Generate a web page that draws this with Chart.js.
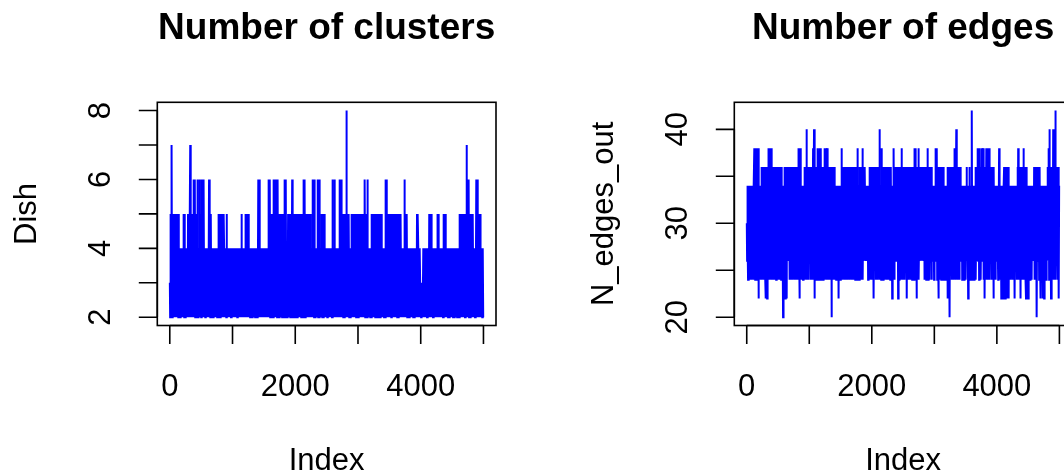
<!DOCTYPE html>
<html>
<head>
<meta charset="utf-8">
<title>MCMC traces</title>
<script src="https://cdn.jsdelivr.net/npm/chart.js@4.4.1/dist/chart.umd.min.js"></script>
<style>
  html, body { margin: 0; padding: 0; background: #fff; overflow: hidden; }
  body { width: 1064px; height: 474px; position: relative; }
  canvas { position: absolute; top: 0; }
  #clustersChart { left: 0; }
  #edgesChart { left: 540px; }
</style>
</head>
<body>
<canvas id="clustersChart" width="540" height="474"></canvas>
<canvas id="edgesChart" width="600" height="474"></canvas>
<script>
// trace of the sampler, every 5th iteration of 5000
const nIter = 5000;
const thin = 5;

// number of clusters (Dish)
const clusters = [
  3,2,5,2,4,2,7,2,5,3,2,5,4,2,5,2,3,5,2,4,5,2,3,5,2,
  4,5,2,5,3,2,4,3,2,4,2,3,4,2,3,4,2,4,3,2,5,2,5,3,2,
  4,2,3,4,2,4,3,2,5,3,2,5,4,2,5,7,2,4,5,2,3,5,2,4,5,
  2,6,2,4,3,6,2,5,3,2,5,4,2,6,3,2,4,2,3,6,2,5,3,2,5,
  2,6,2,4,3,2,4,2,6,3,2,4,3,2,4,2,3,4,2,4,3,2,4,2,3,
  6,2,4,3,2,4,5,2,3,4,2,4,3,2,4,2,3,4,2,3,4,2,4,3,2,
  4,2,3,4,2,5,3,2,5,4,2,5,2,3,5,2,4,5,2,5,3,2,5,4,2,
  3,4,2,4,3,2,5,2,4,3,2,4,2,3,4,2,4,3,2,4,2,3,4,2,3,
  4,2,3,4,2,4,3,2,4,2,3,4,2,3,4,2,4,2,3,4,2,4,3,2,4,
  2,3,4,2,5,2,3,4,2,4,3,2,4,2,3,4,2,5,3,2,5,4,2,5,3,
  5,2,4,3,2,4,2,3,4,2,4,3,2,4,2,3,4,2,3,4,2,4,2,3,4,
  2,3,4,2,4,3,2,6,2,4,3,6,2,4,3,2,4,2,3,4,2,4,3,2,4,
  2,3,4,2,4,3,2,4,2,3,4,2,4,3,6,2,4,3,2,6,2,4,3,2,5,
  3,2,5,4,2,6,2,5,3,6,2,6,2,4,3,2,4,2,3,6,2,4,3,2,4,
  2,5,3,2,5,4,2,5,2,3,5,2,4,5,2,5,6,2,5,3,6,2,4,3,2,
  4,2,5,3,2,5,4,2,5,2,3,5,2,4,3,6,2,4,2,5,3,2,5,4,2,
  5,2,3,5,2,4,2,3,4,5,2,5,3,2,4,5,2,3,5,2,4,5,2,5,3,
  2,6,2,5,3,6,2,4,5,2,3,5,2,4,2,3,5,2,4,5,2,3,4,2,5,
  2,3,4,2,4,2,6,3,2,4,2,6,3,2,4,2,3,4,2,4,3,2,6,2,4,
  3,2,6,2,4,3,2,4,2,5,3,2,5,4,2,5,2,5,3,2,4,2,3,4,2,
  4,3,2,4,2,3,4,2,4,3,2,4,2,3,4,2,4,2,6,3,2,4,2,3,4,
  6,2,4,3,2,4,2,3,4,2,3,2,3,2,4,3,6,2,4,5,2,6,2,5,3,
  2,5,4,2,5,3,2,5,2,4,5,2,3,8,2,5,3,2,5,4,2,5,2,4,3,
  2,4,2,3,5,2,4,5,2,3,5,2,5,4,2,5,3,2,5,2,4,5,2,3,5,
  2,4,5,2,5,3,2,5,4,2,5,2,3,5,2,4,5,2,5,3,2,5,6,2,4,
  5,2,3,5,2,6,2,4,3,2,4,2,3,4,2,4,3,2,5,2,4,5,2,5,3,
  2,5,4,2,5,2,5,3,2,4,5,2,3,5,2,5,4,2,5,3,2,5,2,4,5,
  2,3,4,2,4,3,2,4,2,3,4,2,4,6,2,3,6,2,4,3,2,5,2,4,5,
  2,3,5,2,5,4,2,5,2,3,5,2,4,5,2,5,3,2,5,4,2,5,2,3,5,
  2,4,5,2,5,2,3,2,5,4,2,5,3,2,4,2,3,4,2,4,3,2,4,6,2,
  5,3,2,5,4,2,5,2,3,4,2,4,3,2,4,2,3,4,2,4,3,2,4,2,3,
  4,2,4,3,2,4,2,3,4,2,4,3,2,5,3,2,5,4,2,3,4,2,4,3,2,
  3,2,3,2,3,2,3,2,4,3,2,4,2,3,4,2,4,3,2,4,2,3,4,2,4,
  3,2,5,3,2,5,4,2,5,2,4,3,2,4,2,3,4,2,4,3,2,4,2,3,4,
  2,4,3,2,5,3,2,5,2,4,3,2,4,2,3,4,2,4,3,2,4,2,5,3,2,
  5,4,2,5,2,3,4,2,4,3,2,4,2,3,4,2,4,3,2,4,2,3,4,2,4,
  3,2,4,2,3,4,2,4,3,2,4,2,3,4,2,4,2,3,4,2,4,3,2,5,2,
  5,3,5,2,4,3,2,4,2,5,3,2,5,4,2,5,2,3,5,2,4,7,2,5,6,
  2,5,3,6,2,5,4,2,5,2,3,5,2,5,4,2,5,3,2,4,3,2,4,2,3,
  4,2,6,2,4,3,6,2,4,3,2,4,5,2,3,5,2,4,3,2,4,2,3,4,2
];

// number of edges (N_edges_out)
const edges = [
  30,26,34,28,24,34,32,26,30,34,24,28,26,34,30,24,32,34,26,30,34,24,28,34,38,
  26,32,24,38,28,26,34,38,24,30,26,38,28,22,34,30,26,34,28,24,34,30,36,24,28,
  36,26,32,24,36,30,26,34,36,24,30,22,36,28,26,22,34,30,26,38,24,30,34,38,24,
  32,36,26,38,28,24,34,30,26,36,24,32,36,28,24,34,36,26,30,24,36,32,26,36,24,
  30,36,26,34,24,36,28,26,36,32,24,36,30,26,34,28,20,34,22,30,34,26,36,22,30,
  36,24,32,22,36,28,26,34,30,26,36,24,30,36,26,32,24,36,28,26,34,30,24,36,28,
  26,36,24,30,36,26,32,24,36,28,26,34,36,24,30,26,38,28,24,22,34,38,26,30,34,
  24,28,34,26,32,24,34,30,26,34,36,24,30,36,26,32,40,24,28,36,26,30,36,24,32,
  36,26,30,36,24,28,36,26,32,34,24,30,38,26,32,40,22,30,36,24,28,36,26,32,36,
  24,30,38,26,32,36,24,38,28,26,36,30,38,24,28,36,26,32,36,24,30,36,26,38,24,
  30,36,26,38,28,24,36,38,26,30,36,24,32,36,26,30,24,36,28,26,36,20,32,36,24,
  30,36,26,32,36,24,30,34,26,28,34,24,32,26,34,28,24,34,30,22,34,28,26,34,24,
  30,34,26,38,28,36,24,36,30,26,34,28,24,36,30,26,36,24,36,28,26,34,30,24,34,
  28,36,26,30,36,24,32,36,26,28,36,24,30,36,26,34,28,24,36,30,26,36,24,32,36,
  26,30,34,24,38,28,26,34,30,24,34,36,26,30,36,24,32,36,26,28,38,24,30,36,26,
  32,36,26,36,30,26,34,28,26,34,30,26,34,24,30,34,26,28,36,24,30,36,26,32,36,
  24,28,36,26,30,36,22,32,36,26,30,36,24,28,36,26,32,36,24,30,36,26,28,36,24,
  40,28,26,34,30,24,38,28,26,36,30,24,36,32,26,36,28,24,34,30,26,36,24,30,36,
  26,32,36,24,28,36,26,30,36,24,32,36,26,30,34,22,28,34,26,30,38,28,24,30,36,
  26,30,34,26,32,36,28,26,36,22,30,36,24,28,36,26,32,36,24,30,38,26,28,36,24,
  30,36,26,32,36,24,28,36,26,30,36,24,22,36,30,26,36,24,32,36,26,28,36,24,30,
  34,26,30,36,24,28,36,26,32,36,24,38,28,26,34,38,24,30,22,36,28,26,36,30,38,
  24,28,36,26,32,36,26,30,34,26,32,36,28,26,34,30,26,36,24,30,36,26,28,36,24,
  32,36,26,38,28,24,36,30,26,36,24,32,36,26,28,36,24,30,26,30,28,34,26,32,24,
  34,28,26,38,28,26,36,30,38,24,30,36,26,22,36,30,24,36,28,26,36,32,24,36,28,
  26,36,30,24,36,28,26,34,30,24,34,28,26,34,30,24,34,22,36,30,26,36,28,24,20,
  34,36,26,30,36,24,32,36,26,28,36,24,30,36,26,38,28,24,36,30,40,26,32,36,24,
  30,36,26,32,36,24,28,36,26,30,34,26,28,34,24,30,34,26,32,34,24,28,34,26,30,
  34,24,30,36,26,28,34,30,22,34,28,26,36,30,24,34,28,26,34,30,42,24,28,34,26,
  32,34,24,30,34,26,28,36,24,30,36,26,32,36,38,26,30,36,24,28,38,26,30,36,24,
  32,36,38,26,28,36,38,24,30,36,26,22,34,36,28,24,38,30,26,36,38,24,30,36,26,
  38,28,24,36,30,26,36,32,24,36,28,26,36,30,22,36,28,26,34,30,24,34,28,26,34,
  30,26,34,28,24,34,30,38,26,28,34,24,30,34,22,28,34,30,24,34,22,30,34,36,26,
  30,22,36,28,24,36,30,22,36,28,26,36,30,22,34,28,26,34,30,24,34,28,26,34,30,
  24,34,28,26,34,30,24,22,34,28,26,34,30,24,34,28,36,26,38,30,24,36,28,26,36,
  30,22,36,28,24,36,32,26,36,28,38,24,30,36,26,32,36,24,22,36,28,26,34,30,24,
  22,34,28,26,34,30,24,34,28,26,34,30,24,34,28,26,34,30,26,36,28,24,34,30,26,
  36,24,30,20,34,28,36,26,30,34,24,28,36,26,30,22,34,28,26,34,30,22,34,28,24,
  34,22,30,34,26,28,34,24,30,34,26,30,36,26,32,36,38,24,40,28,26,36,30,22,36,
  28,24,36,30,26,40,28,24,36,30,26,36,42,24,30,36,26,32,36,24,28,36,26,22,34
];

// axis ticks and the ticks that carry a label
const indexTicks = [0, 1000, 2000, 3000, 4000, 5000];
const indexLabels = [0, 2000, 4000];
const clusterTicks = [2, 3, 4, 5, 6, 7, 8];
const clusterLabels = [2, 4, 6, 8];
const edgeTicks = [20, 25, 30, 35, 40];
const edgeLabels = [20, 30, 40];

const FONT = '"Liberation Sans", Arial, Helvetica, sans-serif';
const TICK_LEN = 18.5;

// base-graphics style frame: box, outward ticks, rotated y labels
const baseAxes = {
  id: 'baseAxes',
  afterDraw(chart, args, opts) {
    const { ctx, chartArea: a, scales: { x, y } } = chart;
    const midX = (a.left + a.right) / 2;
    const midY = (a.top + a.bottom) / 2;
    ctx.save();
    ctx.strokeStyle = '#000';
    ctx.fillStyle = '#000';
    ctx.lineWidth = 1.6;
    ctx.strokeRect(a.left, a.top, a.right - a.left, a.bottom - a.top);

    ctx.beginPath();
    const xs = opts.xTicks.map(v => x.getPixelForValue(v));
    ctx.moveTo(xs[0], a.bottom);
    ctx.lineTo(xs[xs.length - 1], a.bottom);
    xs.forEach(px => { ctx.moveTo(px, a.bottom); ctx.lineTo(px, a.bottom + TICK_LEN); });
    const ys = opts.yTicks.map(v => y.getPixelForValue(v));
    ctx.moveTo(a.left, ys[0]);
    ctx.lineTo(a.left, ys[ys.length - 1]);
    ys.forEach(py => { ctx.moveTo(a.left, py); ctx.lineTo(a.left - TICK_LEN, py); });
    ctx.stroke();

    ctx.font = '31px ' + FONT;
    ctx.textAlign = 'center';
    ctx.textBaseline = 'alphabetic';
    opts.xLabels.forEach(v => ctx.fillText(String(v), x.getPixelForValue(v), a.bottom + 70));
    ctx.fillText(opts.xTitle, midX, a.bottom + 144.5);

    opts.yLabels.forEach(v => {
      ctx.save();
      ctx.translate(a.left - 47, y.getPixelForValue(v));
      ctx.rotate(-Math.PI / 2);
      ctx.fillText(String(v), 0, 0);
      ctx.restore();
    });
    ctx.save();
    ctx.translate(a.left - 121, midY);
    ctx.rotate(-Math.PI / 2);
    ctx.fillText(opts.yTitle, 0, 0);
    ctx.restore();

    ctx.font = 'bold 37px ' + FONT;
    ctx.fillText(opts.title, midX, 38.5);
    ctx.restore();
  }
};

// R-like range: data range widened by 4% on each side
function padRange(lo, hi) {
  const d = (hi - lo) * 0.04;
  return { min: lo - d, max: hi + d };
}

function traceChart(id, values, pad, axes) {
  const xr = padRange(1, nIter);
  const yr = padRange(Math.min(...values), Math.max(...values));
  return new Chart(document.getElementById(id), {
    type: 'line',
    data: {
      datasets: [{
        data: values.map((v, i) => ({ x: i * thin + 1, y: v })),
        borderColor: '#0000ff',
        borderWidth: 2,
        pointRadius: 0,
        tension: 0,
        fill: false
      }]
    },
    options: {
      responsive: false,
      animation: false,
      devicePixelRatio: 1,
      layout: { padding: pad },
      scales: {
        x: { type: 'linear', display: false, min: xr.min, max: xr.max },
        y: { type: 'linear', display: false, min: yr.min, max: yr.max }
      },
      plugins: {
        legend: { display: false },
        tooltip: { enabled: false },
        baseAxes: axes
      }
    },
    plugins: [baseAxes]
  });
}

traceChart('clustersChart', clusters,
  { left: 157.3, right: 44, top: 102.3, bottom: 148.5 },
  { title: 'Number of clusters', xTitle: 'Index', yTitle: 'Dish',
    xTicks: indexTicks, xLabels: indexLabels, yTicks: clusterTicks, yLabels: clusterLabels });

traceChart('edgesChart', edges,
  { left: 194.3, right: 68.1, top: 102.3, bottom: 148.5 },
  { title: 'Number of edges', xTitle: 'Index', yTitle: 'N_edges_out',
    xTicks: indexTicks, xLabels: indexLabels, yTicks: edgeTicks, yLabels: edgeLabels });
</script>
</body>
</html>
